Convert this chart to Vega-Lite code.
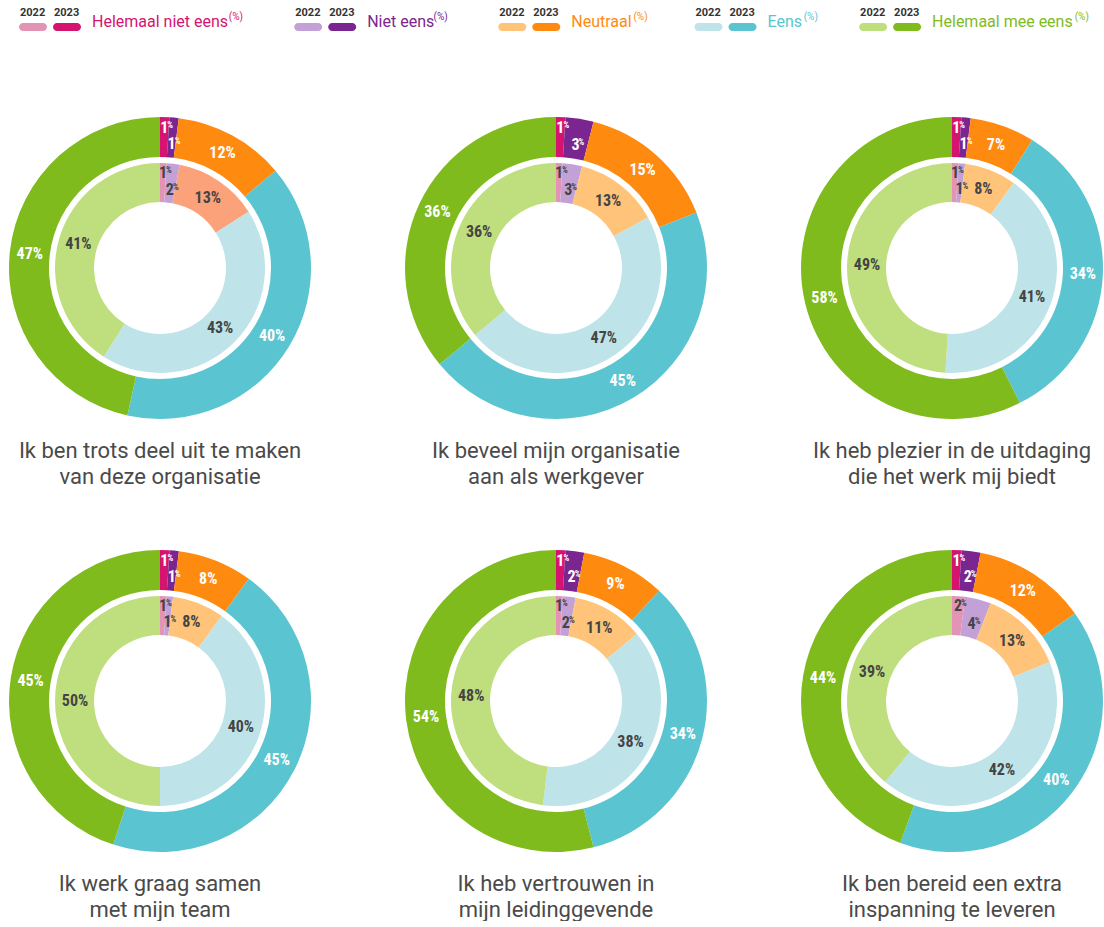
{
  "$schema": "https://vega.github.io/schema/vega-lite/v6.json",
  "padding": {"left": 7, "top": 0, "right": 0, "bottom": 0},
  "background": "white",
  "spacing": 80,
  "config": {"view": {"stroke": null}},
  "resolve": {"scale": {"color": "independent"}},
  "datasets": {
    "legenda": [
      {"nr": 1, "cat": "Helemaal niet eens"},
      {"nr": 2, "cat": "Niet eens"},
      {"nr": 3, "cat": "Neutraal"},
      {"nr": 4, "cat": "Eens"},
      {"nr": 5, "cat": "Helemaal mee eens"}
    ],
    "vragen": [
      {"nr": 1, "vraag": "Ik ben trots deel uit te maken|van deze organisatie"},
      {"nr": 2, "vraag": "Ik beveel mijn organisatie|aan als werkgever"},
      {"nr": 3, "vraag": "Ik heb plezier in de uitdaging|die het werk mij biedt"},
      {"nr": 4, "vraag": "Ik werk graag samen|met mijn team"},
      {"nr": 5, "vraag": "Ik heb vertrouwen in|mijn leidinggevende"},
      {"nr": 6, "vraag": "Ik ben bereid een extra|inspanning te leveren"}
    ],
    "donuts": [
      {"nr": 1, "jaar": 2023, "cat": "Helemaal niet eens", "pct": 1},
      {"nr": 1, "jaar": 2023, "cat": "Niet eens", "pct": 1},
      {"nr": 1, "jaar": 2023, "cat": "Neutraal", "pct": 12},
      {"nr": 1, "jaar": 2023, "cat": "Eens", "pct": 40},
      {"nr": 1, "jaar": 2023, "cat": "Helemaal mee eens", "pct": 47},
      {"nr": 1, "jaar": 2022, "cat": "Helemaal niet eens", "pct": 1},
      {"nr": 1, "jaar": 2022, "cat": "Niet eens", "pct": 2},
      {"nr": 1, "jaar": 2022, "cat": "Neutraal", "pct": 13},
      {"nr": 1, "jaar": 2022, "cat": "Eens", "pct": 43},
      {"nr": 1, "jaar": 2022, "cat": "Helemaal mee eens", "pct": 41},
      {"nr": 2, "jaar": 2023, "cat": "Helemaal niet eens", "pct": 1},
      {"nr": 2, "jaar": 2023, "cat": "Niet eens", "pct": 3},
      {"nr": 2, "jaar": 2023, "cat": "Neutraal", "pct": 15},
      {"nr": 2, "jaar": 2023, "cat": "Eens", "pct": 45},
      {"nr": 2, "jaar": 2023, "cat": "Helemaal mee eens", "pct": 36},
      {"nr": 2, "jaar": 2022, "cat": "Helemaal niet eens", "pct": 1},
      {"nr": 2, "jaar": 2022, "cat": "Niet eens", "pct": 3},
      {"nr": 2, "jaar": 2022, "cat": "Neutraal", "pct": 13},
      {"nr": 2, "jaar": 2022, "cat": "Eens", "pct": 47},
      {"nr": 2, "jaar": 2022, "cat": "Helemaal mee eens", "pct": 36},
      {"nr": 3, "jaar": 2023, "cat": "Helemaal niet eens", "pct": 1},
      {"nr": 3, "jaar": 2023, "cat": "Niet eens", "pct": 1},
      {"nr": 3, "jaar": 2023, "cat": "Neutraal", "pct": 7},
      {"nr": 3, "jaar": 2023, "cat": "Eens", "pct": 34},
      {"nr": 3, "jaar": 2023, "cat": "Helemaal mee eens", "pct": 58},
      {"nr": 3, "jaar": 2022, "cat": "Helemaal niet eens", "pct": 1},
      {"nr": 3, "jaar": 2022, "cat": "Niet eens", "pct": 1},
      {"nr": 3, "jaar": 2022, "cat": "Neutraal", "pct": 8},
      {"nr": 3, "jaar": 2022, "cat": "Eens", "pct": 41},
      {"nr": 3, "jaar": 2022, "cat": "Helemaal mee eens", "pct": 49},
      {"nr": 4, "jaar": 2023, "cat": "Helemaal niet eens", "pct": 1},
      {"nr": 4, "jaar": 2023, "cat": "Niet eens", "pct": 1},
      {"nr": 4, "jaar": 2023, "cat": "Neutraal", "pct": 8},
      {"nr": 4, "jaar": 2023, "cat": "Eens", "pct": 45},
      {"nr": 4, "jaar": 2023, "cat": "Helemaal mee eens", "pct": 45},
      {"nr": 4, "jaar": 2022, "cat": "Helemaal niet eens", "pct": 1},
      {"nr": 4, "jaar": 2022, "cat": "Niet eens", "pct": 1},
      {"nr": 4, "jaar": 2022, "cat": "Neutraal", "pct": 8},
      {"nr": 4, "jaar": 2022, "cat": "Eens", "pct": 40},
      {"nr": 4, "jaar": 2022, "cat": "Helemaal mee eens", "pct": 50},
      {"nr": 5, "jaar": 2023, "cat": "Helemaal niet eens", "pct": 1},
      {"nr": 5, "jaar": 2023, "cat": "Niet eens", "pct": 2},
      {"nr": 5, "jaar": 2023, "cat": "Neutraal", "pct": 9},
      {"nr": 5, "jaar": 2023, "cat": "Eens", "pct": 34},
      {"nr": 5, "jaar": 2023, "cat": "Helemaal mee eens", "pct": 54},
      {"nr": 5, "jaar": 2022, "cat": "Helemaal niet eens", "pct": 1},
      {"nr": 5, "jaar": 2022, "cat": "Niet eens", "pct": 2},
      {"nr": 5, "jaar": 2022, "cat": "Neutraal", "pct": 11},
      {"nr": 5, "jaar": 2022, "cat": "Eens", "pct": 38},
      {"nr": 5, "jaar": 2022, "cat": "Helemaal mee eens", "pct": 48},
      {"nr": 6, "jaar": 2023, "cat": "Helemaal niet eens", "pct": 1},
      {"nr": 6, "jaar": 2023, "cat": "Niet eens", "pct": 2},
      {"nr": 6, "jaar": 2023, "cat": "Neutraal", "pct": 12},
      {"nr": 6, "jaar": 2023, "cat": "Eens", "pct": 40},
      {"nr": 6, "jaar": 2023, "cat": "Helemaal mee eens", "pct": 44},
      {"nr": 6, "jaar": 2022, "cat": "Helemaal niet eens", "pct": 2},
      {"nr": 6, "jaar": 2022, "cat": "Niet eens", "pct": 4},
      {"nr": 6, "jaar": 2022, "cat": "Neutraal", "pct": 13},
      {"nr": 6, "jaar": 2022, "cat": "Eens", "pct": 42},
      {"nr": 6, "jaar": 2022, "cat": "Helemaal mee eens", "pct": 39}
    ]
  },
  "vconcat": [
    {
      "width": 1090,
      "height": 35,
      "data": {"name": "legenda"},
      "transform": [
        {"calculate": "133 + 7.9 * length(datum.cat)", "as": "w"},
        {"window": [{"op": "sum", "field": "w", "as": "cum"}], "sort": [{"field": "nr", "order": "ascending"}], "frame": [null, 0]},
        {"calculate": "13 + datum.cum - datum.w", "as": "x0"},
        {"calculate": "length(datum.cat) - length(replace(datum.cat, regexp('[ilt ]', 'g'), ''))", "as": "smal"},
        {"calculate": "length(datum.cat) - length(replace(datum.cat, regexp('m', 'g'), ''))", "as": "emm"},
        {"calculate": "16 * (0.55 * (length(datum.cat) - datum.smal) + 0.26 * datum.smal + 0.33 * datum.emm)", "as": "tw"},
        {"calculate": "datum.x0 - 1", "as": "s22a"},
        {"calculate": "datum.x0 + 27", "as": "s22b"},
        {"calculate": "datum.x0 + 33", "as": "s23a"},
        {"calculate": "datum.x0 + 61", "as": "s23b"},
        {"calculate": "datum.x0 + 34", "as": "t23"},
        {"calculate": "datum.x0 + 72", "as": "lx"},
        {"calculate": "datum.x0 + 73 + datum.tw", "as": "px"},
        {"calculate": "datum.cat + ' 2022'", "as": "k22"},
        {"calculate": "datum.cat + ' 2023'", "as": "k23"}
      ],
      "encoding": {
        "color": {"field": "k23", "type": "nominal", "legend": null,
          "scale": {
            "domain": ["Helemaal niet eens 2022", "Niet eens 2022", "Neutraal 2022", "Eens 2022", "Helemaal mee eens 2022", "Helemaal niet eens 2023", "Niet eens 2023", "Neutraal 2023", "Eens 2023", "Helemaal mee eens 2023"],
            "range": ["#E394B4", "#C3A0D5", "#FFC47A", "#BEE3E8", "#BFDE7E", "#D4146F", "#7A2590", "#FF8A10", "#5AC5D1", "#80BB1E"]
          }}
      },
      "layer": [
        {
          "mark": {"type": "text", "text": "2022", "y": 13, "align": "left", "baseline": "middle", "font": "Roboto", "fontSize": 11, "fontWeight": "bold"},
          "encoding": {"x": {"field": "x0", "type": "quantitative", "axis": null, "scale": {"domain": [0, 1090], "nice": false, "zero": false}}, "color": {"value": "#333333"}}
        },
        {
          "mark": {"type": "text", "text": "2023", "y": 13, "align": "left", "baseline": "middle", "font": "Roboto", "fontSize": 11, "fontWeight": "bold"},
          "encoding": {"x": {"field": "t23", "type": "quantitative", "axis": null}, "color": {"value": "#333333"}}
        },
        {
          "mark": {"type": "bar", "cornerRadius": 4},
          "encoding": {
            "x": {"field": "s22a", "type": "quantitative", "axis": null},
            "x2": {"field": "s22b"},
            "y": {"datum": 23, "type": "quantitative", "axis": null, "scale": {"domain": [0, 35], "reverse": true, "nice": false, "zero": false}},
            "y2": {"datum": 31},
            "color": {"field": "k22", "type": "nominal", "legend": null}
          }
        },
        {
          "mark": {"type": "bar", "cornerRadius": 4},
          "encoding": {
            "x": {"field": "s23a", "type": "quantitative", "axis": null},
            "x2": {"field": "s23b"},
            "y": {"datum": 23, "type": "quantitative", "axis": null},
            "y2": {"datum": 31}
          }
        },
        {
          "mark": {"type": "text", "y": 22, "align": "left", "baseline": "middle", "font": "Roboto", "fontSize": 16},
          "encoding": {
            "x": {"field": "lx", "type": "quantitative", "axis": null},
            "text": {"field": "cat"}
          }
        },
        {
          "mark": {"type": "text", "text": "(%)", "y": 17, "align": "left", "baseline": "middle", "font": "Roboto", "fontSize": 10},
          "encoding": {
            "x": {"field": "px", "type": "quantitative", "axis": null}
          }
        }
      ]
    },
    {
      "data": {"name": "donuts"},
      "transform": [
        {"lookup": "nr", "from": {"data": {"name": "vragen"}, "key": "nr", "fields": ["vraag"]}},
        {"calculate": "indexof(['Helemaal niet eens','Niet eens','Neutraal','Eens','Helemaal mee eens'], datum.cat)", "as": "idx"},
        {"calculate": "datum.cat + ' ' + datum.jaar", "as": "sleutel"},
        {"calculate": "datum.pct + '%'", "as": "lbl"}
      ],
      "facet": {
        "field": "vraag",
        "type": "nominal",
        "sort": {"field": "nr", "op": "min"},
        "header": {
          "title": null,
          "labelOrient": "bottom",
          "labelExpr": "split(datum.value, '|')",
          "labelFont": "Roboto",
          "labelFontSize": 22,
          "labelColor": "#4a4a4a",
          "labelLineHeight": 26,
          "labelPadding": 20
        }
      },
      "columns": 3,
      "spacing": {"column": 90, "row": 60},
      "spec": {
        "width": 306,
        "height": 306,
        "encoding": {
          "theta": {"field": "pct", "type": "quantitative", "stack": "normalize"},
          "order": {"field": "idx", "type": "quantitative", "sort": "ascending"}
        },
        "layer": [
          {
            "transform": [{"filter": "datum.jaar === 2023"}],
            "mark": {"type": "arc", "outerRadius": 151, "innerRadius": 111},
            "encoding": {
              "color": {"field": "sleutel", "type": "nominal", "legend": null,
                "scale": {
                  "domain": ["Helemaal niet eens 2022", "Niet eens 2022", "Neutraal 2022", "Eens 2022", "Helemaal mee eens 2022", "Helemaal niet eens 2023", "Niet eens 2023", "Neutraal 2023", "Eens 2023", "Helemaal mee eens 2023"],
                  "range": ["#E394B4", "#C3A0D5", "#FFC47A", "#BEE3E8", "#BFDE7E", "#D4146F", "#7A2590", "#FF8A10", "#5AC5D1", "#80BB1E"]
                }}
            }
          },
          {
            "transform": [{"filter": "datum.jaar === 2022"}],
            "mark": {"type": "arc", "outerRadius": 105, "innerRadius": 66},
            "encoding": {
              "color": {"field": "sleutel", "type": "nominal", "legend": null,
                "condition": {"test": "datum.nr === 1 && datum.idx === 2", "value": "#FBA27A"}}
            }
          },
          {
            "transform": [{"filter": "datum.jaar === 2023"}],
            "mark": {"type": "text", "radius": 131, "font": "Liberation Sans Narrow, Roboto Condensed, Roboto, sans-serif", "fontSize": 16, "fontWeight": "bold", "color": "white", "align": "center", "baseline": "middle"},
            "encoding": {"text": {"condition": {"test": "datum.idx >= 2", "field": "lbl", "type": "nominal"}, "value": ""}}
          },
          {
            "transform": [{"filter": "datum.jaar === 2023"}],
            "mark": {"type": "text", "radius": 140, "font": "Liberation Sans Narrow, Roboto Condensed, Roboto, sans-serif", "fontSize": 16, "fontWeight": "bold", "color": "white", "align": "center", "baseline": "middle"},
            "encoding": {"text": {"condition": {"test": "datum.idx === 0", "field": "pct", "type": "nominal"}, "value": ""}}
          },
          {
            "transform": [{"filter": "datum.jaar === 2023"}],
            "mark": {"type": "text", "radius": 140, "dx": 3, "dy": -3, "font": "Liberation Sans Narrow, Roboto Condensed, Roboto, sans-serif", "fontSize": 9, "fontWeight": "bold", "color": "white", "align": "left", "baseline": "middle"},
            "encoding": {"text": {"condition": {"test": "datum.idx === 0", "value": "%"}, "value": ""}}
          },
          {
            "transform": [{"filter": "datum.jaar === 2023"}],
            "mark": {"type": "text", "radius": 125, "font": "Liberation Sans Narrow, Roboto Condensed, Roboto, sans-serif", "fontSize": 16, "fontWeight": "bold", "color": "white", "align": "center", "baseline": "middle"},
            "encoding": {"text": {"condition": {"test": "datum.idx === 1", "field": "pct", "type": "nominal"}, "value": ""}}
          },
          {
            "transform": [{"filter": "datum.jaar === 2023"}],
            "mark": {"type": "text", "radius": 125, "dx": 3, "dy": -3, "font": "Liberation Sans Narrow, Roboto Condensed, Roboto, sans-serif", "fontSize": 9, "fontWeight": "bold", "color": "white", "align": "left", "baseline": "middle"},
            "encoding": {"text": {"condition": {"test": "datum.idx === 1", "value": "%"}, "value": ""}}
          },
          {
            "transform": [{"filter": "datum.jaar === 2022"}],
            "mark": {"type": "text", "radius": 85, "font": "Liberation Sans Narrow, Roboto Condensed, Roboto, sans-serif", "fontSize": 16, "fontWeight": "bold", "color": "#444444", "align": "center", "baseline": "middle"},
            "encoding": {"text": {"condition": {"test": "datum.idx >= 2", "field": "lbl", "type": "nominal"}, "value": ""}}
          },
          {
            "transform": [{"filter": "datum.jaar === 2022"}],
            "mark": {"type": "text", "radius": 95, "font": "Liberation Sans Narrow, Roboto Condensed, Roboto, sans-serif", "fontSize": 16, "fontWeight": "bold", "color": "#444444", "align": "center", "baseline": "middle"},
            "encoding": {"text": {"condition": {"test": "datum.idx === 0", "field": "pct", "type": "nominal"}, "value": ""}}
          },
          {
            "transform": [{"filter": "datum.jaar === 2022"}],
            "mark": {"type": "text", "radius": 95, "dx": 3, "dy": -3, "font": "Liberation Sans Narrow, Roboto Condensed, Roboto, sans-serif", "fontSize": 9, "fontWeight": "bold", "color": "#444444", "align": "left", "baseline": "middle"},
            "encoding": {"text": {"condition": {"test": "datum.idx === 0", "value": "%"}, "value": ""}}
          },
          {
            "transform": [{"filter": "datum.jaar === 2022"}],
            "mark": {"type": "text", "radius": 79, "font": "Liberation Sans Narrow, Roboto Condensed, Roboto, sans-serif", "fontSize": 16, "fontWeight": "bold", "color": "#444444", "align": "center", "baseline": "middle"},
            "encoding": {"text": {"condition": {"test": "datum.idx === 1", "field": "pct", "type": "nominal"}, "value": ""}}
          },
          {
            "transform": [{"filter": "datum.jaar === 2022"}],
            "mark": {"type": "text", "radius": 79, "dx": 3, "dy": -3, "font": "Liberation Sans Narrow, Roboto Condensed, Roboto, sans-serif", "fontSize": 9, "fontWeight": "bold", "color": "#444444", "align": "left", "baseline": "middle"},
            "encoding": {"text": {"condition": {"test": "datum.idx === 1", "value": "%"}, "value": ""}}
          }
        ]
      }
    }
  ]
}
